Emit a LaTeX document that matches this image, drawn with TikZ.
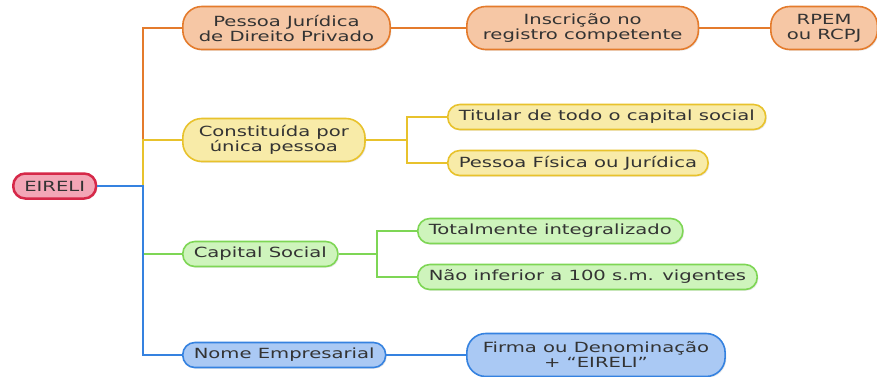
\documentclass[tikz,border=0pt]{standalone}
\usepackage{fontspec}
\setmainfont[FakeStretch=1.4]{DejaVu Sans}
\usetikzlibrary{shadows}

\definecolor{redline}{HTML}{D62848}
\definecolor{redfill}{HTML}{F3A6B6}
\definecolor{orangeline}{HTML}{E47B2C}
\definecolor{orangefill}{HTML}{F6C7A5}
\definecolor{yellowline}{HTML}{E8C22C}
\definecolor{yellowfill}{HTML}{F8EBA8}
\definecolor{greenline}{HTML}{7ED655}
\definecolor{greenfill}{HTML}{CEF4BC}
\definecolor{blueline}{HTML}{3582E0}
\definecolor{bluefill}{HTML}{AAC9F4}

\tikzset{
  topic/.style={draw, line width=1.6pt, rounded corners=12pt, minimum height=25pt,
    inner xsep=11pt, inner ysep=2pt, text=black!80, align=center,
    font=\fontsize{14}{15}\selectfont,
    drop shadow={opacity=0.18, shadow xshift=1.2pt, shadow yshift=-1.2pt}},
  twoline/.style={rounded corners=19pt, minimum height=43pt, inner xsep=16pt},
  redtopic/.style={topic, draw=redline, fill=redfill, line width=2.5pt},
  orangetopic/.style={topic, draw=orangeline, fill=orangefill},
  yellowtopic/.style={topic, draw=yellowline, fill=yellowfill},
  greentopic/.style={topic, draw=greenline, fill=greenfill},
  bluetopic/.style={topic, draw=blueline, fill=bluefill},
  branch/.style={line width=2.8pt},
}

\begin{document}
\begin{tikzpicture}[x=1pt, y=-1pt]
\fill[white] (0,0) rectangle (877,376);
\useasboundingbox (0,0) rectangle (877,376);
\clip (0,0) rectangle (877,376);

\node[redtopic, anchor=west] (eireli) at (12,186) {EIRELI};

\node[orangetopic, twoline, anchor=west] (pj) at (182,28) {Pessoa Jurídica\\de Direito Privado};
\node[orangetopic, twoline, anchor=west] (insc) at (466,28) {Inscrição no\\registro competente};
\node[orangetopic, twoline, anchor=west] (rpem) at (770,28) {RPEM\\ou RCPJ};

\node[yellowtopic, twoline, anchor=west] (unica) at (182,140) {Constituída por\\única pessoa};
\node[yellowtopic, anchor=west] (titular) at (447,117) {Titular de todo o capital social};
\node[yellowtopic, anchor=west] (pfisica) at (447,163) {Pessoa Física ou Jurídica};

\node[greentopic, anchor=west] (capital) at (182,254) {Capital Social};
\node[greentopic, anchor=west] (integral) at (417,231) {Totalmente integralizado};
\node[greentopic, anchor=west] (inferior) at (417,277) {Não inferior a 100 s.m. vigentes};

\node[bluetopic, anchor=west] (nome) at (182,355) {Nome Empresarial};
\node[bluetopic, twoline, anchor=west] (firma) at (466,355) {Firma ou Denominação\\+ “EIRELI”};

\coordinate (trunk) at (143,186);
\coordinate (yfork) at (407,140);
\coordinate (gfork) at (377,254);

% orange branch
\draw[branch, orangeline] (trunk |- unica.west) |- (pj.west);
\draw[branch, orangeline] (pj.east) -- (insc.west);
\draw[branch, orangeline] (insc.east) -- (rpem.west);

% yellow branch
\draw[branch, yellowline] (trunk) |- (unica.west);
\draw[branch, yellowline] (unica.east) -- (yfork);
\draw[branch, yellowline] (titular.west) -| (yfork) |- (pfisica.west);

% green branch
\draw[branch, greenline] (trunk |- capital.west) -- (capital.west);
\draw[branch, greenline] (capital.east) -- (gfork);
\draw[branch, greenline] (integral.west) -| (gfork) |- (inferior.west);

% blue branch
\draw[branch, blueline] (eireli.east) -- (trunk) |- (nome.west);
\draw[branch, blueline] (nome.east) -- (firma.west);

\end{tikzpicture}
\end{document}
